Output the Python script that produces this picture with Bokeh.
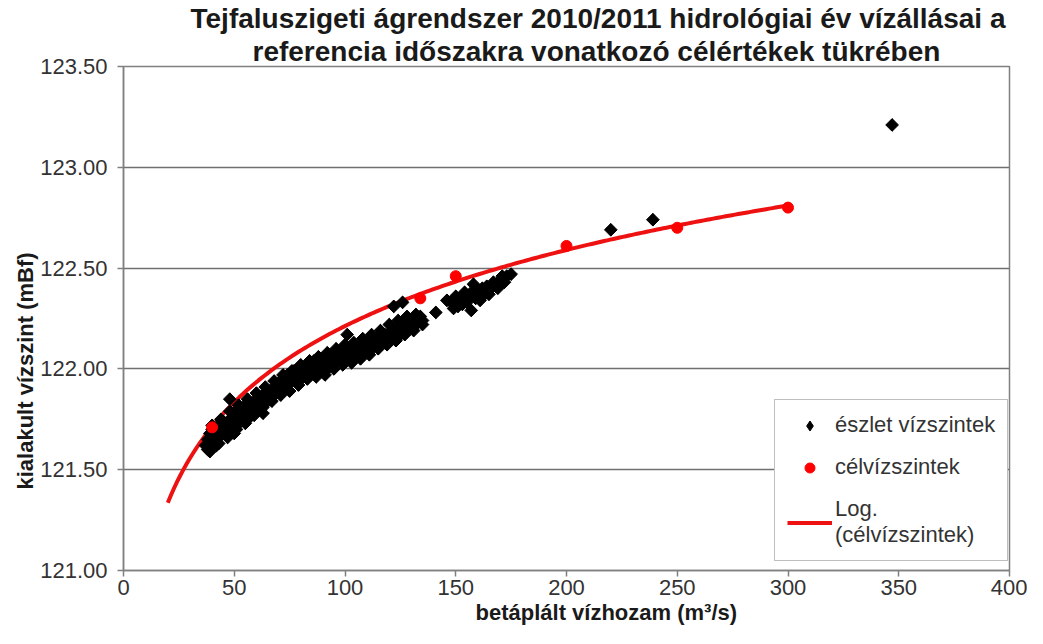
import numpy as np
from bokeh.plotting import figure
from bokeh.models import (Range1d, FixedTicker, Legend, LegendItem, Title,
                          NumeralTickFormatter)
from bokeh.embed import file_html
from bokeh.resources import INLINE

# ---- data -------------------------------------------------------------
title_lines = ["Tejfaluszigeti ágrendszer 2010/2011 hidrológiai év vízállásai a",
               "referencia időszakra vonatkozó célértékek tükrében"]
x_label = "betáplált vízhozam (m³/s)"
y_label = "kialakult vízszint (mBf)"
x_ticks = [0, 50, 100, 150, 200, 250, 300, 350, 400]
y_ticks = [121.0, 121.5, 122.0, 122.5, 123.0, 123.5]

# observed water levels (észlet vízszintek)
obs_q = [37, 38, 38, 39, 40, 40, 41, 42, 42, 43, 44, 45, 45, 46, 47, 48, 48, 49, 50, 50,
         51, 52, 53, 54, 55, 56, 57, 58, 59, 60, 61, 62, 63, 64, 65, 66, 67, 68, 69, 70,
         71, 72, 73, 74, 75, 76, 77, 78, 79, 80, 81, 82, 83, 84, 85, 86, 87, 88, 89, 90,
         91, 92, 93, 94, 95, 96, 97, 98, 99, 100, 101, 102, 103, 104, 105, 106, 107, 108,
         109, 110, 111, 112, 113, 114, 115, 116, 117, 118, 119, 120, 121, 122, 122, 123,
         124, 125, 126, 126, 127, 128, 129, 130, 131, 132, 133, 134, 135, 141, 146, 148,
         150, 151, 152, 154, 155, 156, 157, 158, 159, 160, 162, 163, 164, 166, 167, 168,
         170, 172, 173, 220, 239, 347,
         40, 44, 48, 52, 56, 60, 64, 68, 72, 76, 80, 84, 88, 92, 96, 100, 104, 108, 112,
         116, 120, 124, 128, 132,
         39, 43, 47, 51, 55, 59, 63, 67, 71, 75, 79, 83, 87, 91, 95, 99, 103, 107, 111,
         115, 119, 123, 127, 131, 135,
         149, 153, 158, 161, 165, 169, 171, 175]
obs_h = [121.62, 121.60, 121.65, 121.68, 121.63, 121.70, 121.66, 121.62, 121.69, 121.72,
         121.67, 121.70, 121.74, 121.72, 121.69, 121.85, 121.75, 121.73, 121.68, 121.78,
         121.76, 121.80, 121.74, 121.78, 121.82, 121.79, 121.76, 121.83, 121.80, 121.85,
         121.82, 121.86, 121.78, 121.88, 121.84, 121.89, 121.87, 121.91, 121.88, 121.93,
         121.90, 121.95, 121.92, 121.97, 121.93, 121.96, 121.99, 121.94, 121.97, 122.00,
         121.96, 121.99, 122.02, 121.97, 122.01, 122.04, 121.99, 122.02, 122.05, 122.00,
         122.03, 122.06, 122.01, 122.04, 122.07, 122.03, 122.06, 122.08, 122.04, 122.07,
         122.17, 122.09, 122.05, 122.10, 122.07, 122.11, 122.08, 122.12, 122.09, 122.13,
         122.10, 122.14, 122.11, 122.15, 122.12, 122.16, 122.13, 122.17, 122.14, 122.18,
         122.15, 122.31, 122.19, 122.16, 122.20, 122.17, 122.22, 122.33, 122.19, 122.23,
         122.20, 122.24, 122.21, 122.25, 122.23, 122.26, 122.24, 122.28, 122.34, 122.33,
         122.36, 122.31, 122.35, 122.38, 122.33, 122.36, 122.29, 122.39, 122.35, 122.37,
         122.40, 122.37, 122.41, 122.40, 122.43, 122.41, 122.44, 122.43, 122.46, 122.69,
         122.74, 123.21,
         121.72, 121.75, 121.79, 121.82, 121.85, 121.88, 121.91, 121.94, 121.97, 121.99,
         122.02, 122.04, 122.06, 122.08, 122.10, 122.12, 122.13, 122.15, 122.17, 122.19,
         122.22, 122.24, 122.26, 122.27,
         121.59, 121.63, 121.66, 121.70, 121.73, 121.77, 121.81, 121.84, 121.87, 121.89,
         121.92, 121.95, 121.96, 121.97, 122.00, 122.02, 122.03, 122.05, 122.07, 122.10,
         122.12, 122.14, 122.17, 122.19, 122.22,
         122.30, 122.32, 122.42, 122.34, 122.37, 122.40, 122.46, 122.47]

# target levels (célvízszintek)
target_q = [40, 134, 150, 200, 250, 300]
target_h = [121.71, 122.35, 122.46, 122.61, 122.70, 122.80]

# logarithmic trendline fitted to the target levels (spreadsheet "Log." trend)
trend_from, trend_to = 20, 300
b, a = np.polyfit(np.log(target_q), target_h, 1)
trend_q = np.linspace(trend_from, trend_to, 200)
trend_h = a + b * np.log(trend_q)

# ---- figure -----------------------------------------------------------
FONT = "Liberation Sans"
TXT = "#1a1a1a"
p = figure(width=1027, height=628, output_backend="svg", toolbar_location=None,
           x_range=Range1d(0, 400), y_range=Range1d(121.0, 123.5),
           min_border_left=123, min_border_right=18, min_border_top=66,
           min_border_bottom=58)
p.background_fill_color = "white"
p.border_fill_color = "white"
p.outline_line_color = "#808080"
p.outline_line_width = 1.5

line_r = p.line(trend_q, trend_h, line_color="#ee1111", line_width=4)
# diamond-shaped copy used as the legend swatch (hidden under the main markers)
obs_key = p.scatter(obs_q, obs_h, marker="diamond", size=12, fill_color="black",
                    line_color="black")
obs_r = p.scatter(obs_q, obs_h, marker="square", angle=0.785, size=9,
                  fill_color="black", line_color="black")
tgt_r = p.scatter(target_q, target_h, marker="circle", size=11, fill_color="#ff0000",
                  line_color="#ff0000")

for ax in (p.xaxis[0], p.yaxis[0]):
    ax.major_label_text_font = FONT
    ax.major_label_text_font_size = "22px"
    ax.major_label_text_color = "#333333"
    ax.axis_line_color = "#808080"
    ax.axis_line_width = 1.5
    ax.major_tick_line_color = "#808080"
    ax.major_tick_line_width = 1.5
    ax.major_tick_out = 6
    ax.major_tick_in = 0
    ax.minor_tick_line_color = None

p.xaxis.ticker = FixedTicker(ticks=x_ticks)
p.yaxis.ticker = FixedTicker(ticks=y_ticks)
p.yaxis.formatter = NumeralTickFormatter(format="0.00")
p.xaxis.major_label_standoff = 3
p.yaxis.major_label_standoff = 10

p.xgrid.grid_line_color = None
p.ygrid.ticker = FixedTicker(ticks=y_ticks)
p.ygrid.grid_line_color = "#707070"
p.ygrid.grid_line_width = 1.5

def make_title(text, size, offset):
    return Title(text=text, align="left", offset=offset, standoff=0,
                 text_font=FONT, text_font_style="bold", text_font_size=size,
                 text_color=TXT)

# axis labels
p.add_layout(make_title(x_label, "22px", 352), "below")
p.add_layout(make_title(y_label, "22px", 81), "left")
# two-line chart title (second line closest to the plot)
p.add_layout(make_title(title_lines[1], "28px", 129), "above")
p.add_layout(make_title(title_lines[0], "28px", 67), "above")

legend = Legend(items=[
    LegendItem(label="észlet vízszintek", renderers=[obs_key]),
    LegendItem(label="célvízszintek", renderers=[tgt_r]),
    LegendItem(label="Log.\n(célvízszintek)", renderers=[line_r]),
], location=(651, 9))
legend.label_text_font = FONT
legend.label_text_font_size = "22px"
legend.label_text_color = "#333333"
legend.border_line_color = "#808080"
legend.border_line_width = 1.5
legend.background_fill_alpha = 1
legend.padding = 12
legend.margin = 0
legend.spacing = 16
legend.glyph_width = 45
legend.glyph_height = 25
legend.label_height = 25
legend.label_standoff = 3
p.add_layout(legend)

open("out.html", "w").write(file_html(p, INLINE))
